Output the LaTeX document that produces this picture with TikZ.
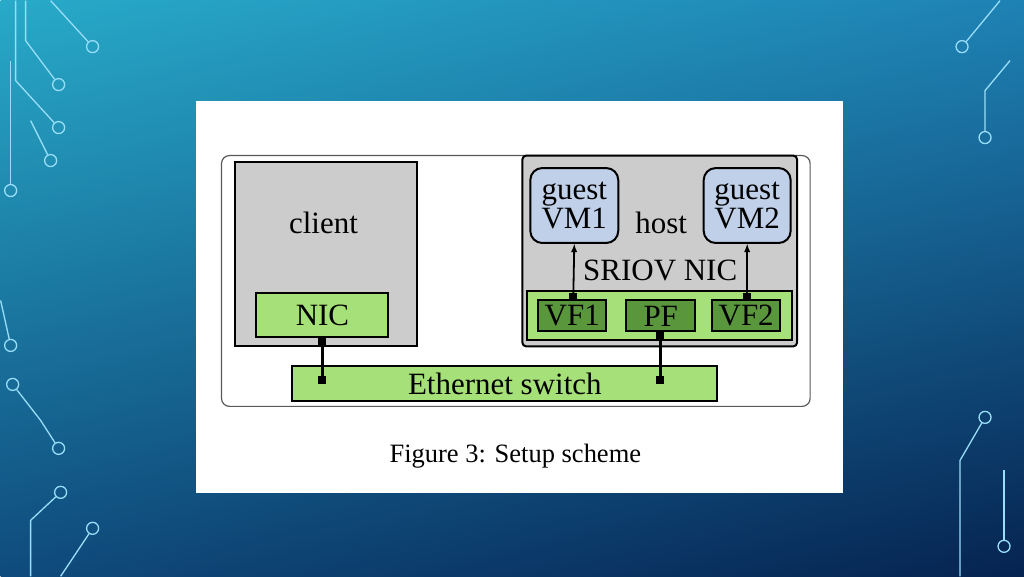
\documentclass[tikz,border=0pt]{standalone}
\usepackage{fontspec}
\usetikzlibrary{shadings}
\setmainfont{Liberation Serif}
\definecolor{bgA}{RGB}{40,170,200}
\definecolor{bgB}{RGB}{30,130,180}
\definecolor{bgC}{RGB}{15,75,125}
\definecolor{bgD}{RGB}{6,35,80}
\definecolor{lg}{RGB}{166,224,120}
\definecolor{dg}{RGB}{90,150,60}
\definecolor{vmc}{RGB}{192,208,232}
\begin{document}
\begin{tikzpicture}[x=1pt,y=-1pt,
  box/.style={draw=black,line width=2pt},
  gbox/.style={box,fill=lg},
  dbox/.style={box,fill=dg},
  vm/.style={box,rounded corners=12pt,fill=vmc},
  lbl/.style={font=\fontsize{31}{32}\selectfont},
  ckt/.style={draw=cyan!40!white,line width=1.3pt},
  dot/.style={circle,draw=cyan!40!white,line width=1.3pt,minimum size=12pt,inner sep=0pt},
  sq/.style={fill=black,minimum size=8pt,inner sep=0pt}]
\shade[upper left=bgA,upper right=bgB,lower left=bgC,lower right=bgD] (0,0) rectangle (1024,576);
% circuit decorations
\node[dot] (c1) at (92,46) {}; \draw[ckt] (50,0) -- (c1);
\node[dot] (c2) at (58,84) {}; \draw[ckt] (25,0) -- (25,40) -- (c2);
\node[dot] (c3) at (58,127) {}; \draw[ckt] (15,0) -- (15,80) -- (c3);
\node[dot] (c4) at (10,190) {}; \draw[ckt] (10,60) -- (c4);
\node[dot] (c5) at (50,160) {}; \draw[ckt] (30,120) -- (c5);
\node[dot] (c6) at (962,46) {}; \draw[ckt] (1000,0) -- (c6);
\node[dot] (c7) at (985,137) {}; \draw[ckt] (1010,60) -- (985,90) -- (c7);
\node[dot] (c8) at (10,345) {}; \draw[ckt] (0,300) -- (c8);
\node[dot] (c9) at (12,384) {}; \node[dot] (c10) at (58,448) {}; \draw[ckt] (c9) -- (40,420) -- (c10);
\node[dot] (c11) at (60,492) {}; \draw[ckt] (30,576) -- (30,520) -- (c11);
\node[dot] (c12) at (92,528) {}; \draw[ckt] (60,576) -- (c12);
\node[dot] (c13) at (985,417) {}; \draw[ckt] (c13) -- (960,460) -- (960,576);
\node[dot] (c14) at (1004,546) {}; \draw[ckt] (1004,470) -- (c14);
% panel
\fill[white] (195,100) rectangle (843,493);
\draw[gray!70!black,line width=1.2pt,rounded corners=8pt] (221,155) rectangle (810,406);
\draw[box,fill=gray!40] (234,161) rectangle (417,346);
\node[lbl] (client) at (323,222) {client};
\draw[box,fill=gray!40,rounded corners=4pt] (522,155) rectangle (797,346);
\node[gbox,minimum width=132pt,minimum height=44pt,lbl,inner sep=0pt] (nic) at (322,315) {NIC};
\node[vm,minimum width=88pt,minimum height=75pt,lbl,align=center,inner sep=0pt] (vm1) at (574,205) {guest\\[-2pt]VM1};
\node[vm,minimum width=87pt,minimum height=75pt,lbl,align=center,inner sep=0pt] (vm2) at (747,205) {guest\\[-2pt]VM2};
\node[lbl] (host) at (661,222) {host};
\node[lbl] (sriov) at (660,270) {SRIOV NIC};
\node[gbox,minimum width=265pt,minimum height=49pt] (strip) at (659.5,315.5) {};
\node[dbox,minimum width=68pt,minimum height=31pt,lbl,inner sep=0pt] (vf1) at (572,315.5) {VF1};
\node[dbox,minimum width=69pt,minimum height=31pt,lbl,inner sep=0pt] (pf) at (660.5,315.5) {PF};
\node[dbox,minimum width=68pt,minimum height=31pt,lbl,inner sep=0pt] (vf2) at (746,315.5) {VF2};
\node[gbox,minimum width=425pt,minimum height=35pt,lbl,inner sep=0pt] (sw) at (504.5,383.5) {Ethernet switch};
\node[sq] (s1) at (322,341) {}; \node[sq] (s2) at (322,380) {};
\draw[line width=3pt] (s1) -- (s2);
\node[sq] (s3) at (660,335) {}; \node[sq] (s4) at (660,380) {};
\draw[line width=3pt] (s3) -- (s4);
\node[sq] (s5) at (573,297) {}; \node[sq] (s6) at (747,297) {};
\draw[-latex,line width=1.8pt] (s5) -- (vm1.south);
\draw[-latex,line width=1.8pt] (s6) -- (vm2.south);
\node[font=\fontsize{26.5}{28}\selectfont] (cap) at (515,456) {Figure 3: Setup scheme};
\end{tikzpicture}
\end{document}
